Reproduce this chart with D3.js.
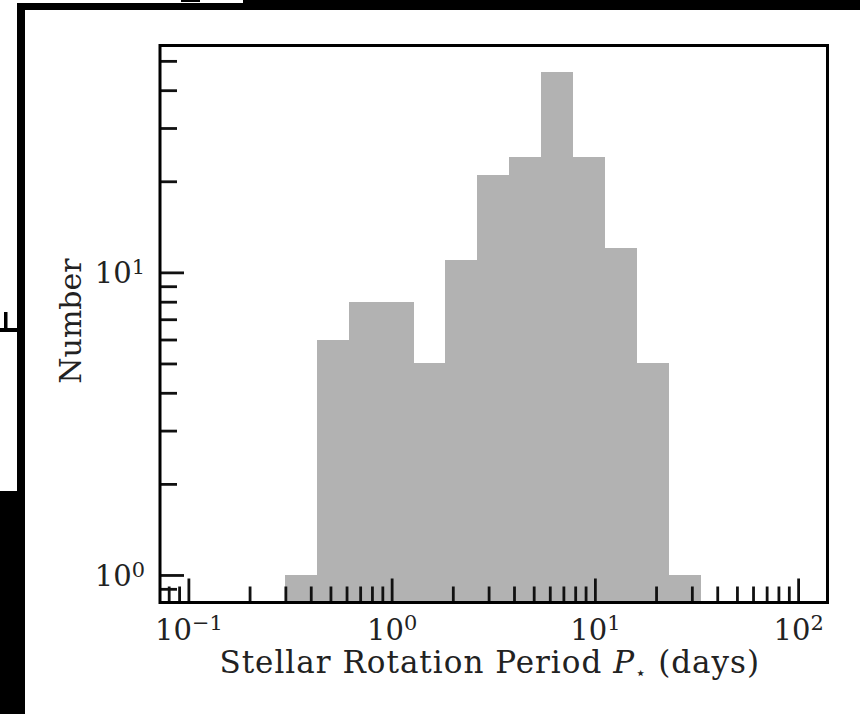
<!DOCTYPE html>
<html>
<head>
<meta charset="utf-8">
<script src="https://cdn.jsdelivr.net/npm/d3@7"></script>
<style>
  body { margin: 0; background: #fff; }
  svg { display: block; }
  text { font-family: "DejaVu Serif", "Liberation Serif", serif; fill: #222; }
</style>
</head>
<body>
<div id="chart"></div>
<script>
// histogram bins (log spaced) and counts
var binEdges = [0.300, 0.431, 0.619, 0.889, 1.28, 1.83, 2.63, 3.78, 5.43, 7.80, 11.2, 16.1, 23.1, 33.2];
var counts = [1, 6, 8, 8, 5, 11, 21, 24, 46, 24, 12, 5, 1];

var xMajorTicks = [0.1, 1, 10, 100];
var yMajorTicks = [1, 10];
var xDomain = [0.0725, 139.5];
var yDomain = [0.811, 56.2];

var xLabel = "Stellar Rotation Period ";
var yLabel = "Number";

var width = 860, height = 714;
var plot = { left: 160, right: 827.5, top: 45.5, bottom: 602.5 };

var svg = d3.select("#chart").append("svg")
    .attr("width", width)
    .attr("height", height);

// stray black framing bits around the cropped figure
function drawFrame() {
    var g = svg.append("g").attr("fill", "#000");
    g.append("rect").attr("x", 17).attr("y", 3).attr("width", 843).attr("height", 7);
    g.append("rect").attr("x", 243).attr("y", 0).attr("width", 617).attr("height", 4);
    g.append("rect").attr("x", 181).attr("y", 0).attr("width", 19).attr("height", 2);
    g.append("rect").attr("x", 17).attr("y", 3).attr("width", 8).attr("height", 711);
    g.append("rect").attr("x", 0).attr("y", 491).attr("width", 25).attr("height", 223);
    g.append("rect").attr("x", 4).attr("y", 312).attr("width", 3.5).attr("height", 19);
    g.append("rect").attr("x", 0).attr("y", 328).attr("width", 17).attr("height", 4);
}

var x = d3.scaleLog().domain(xDomain).range([plot.left, plot.right]);
var y = d3.scaleLog().domain(yDomain).range([plot.bottom, plot.top]);

function drawBars() {
    var bins = counts.map(function(c, i) {
        return { x0: binEdges[i], x1: binEdges[i + 1], n: c };
    });
    svg.append("g")
        .attr("shape-rendering", "crispEdges")
        .selectAll("rect")
        .data(bins).enter().append("rect")
        .attr("x", function(d) { return x(d.x0); })
        .attr("width", function(d) { return x(d.x1) - x(d.x0) + 0.5; })
        .attr("y", function(d) { return y(d.n); })
        .attr("height", function(d) { return plot.bottom - y(d.n); })
        .attr("fill", "#b2b2b2");
}

function superscript(sel) {
    sel.each(function(d) {
        var t = d3.select(this);
        var e = Math.round(Math.log10(d));
        t.text(null);
        t.append("tspan").text("10");
        t.append("tspan")
            .attr("dy", "-0.45em")
            .attr("font-size", "0.72em")
            .text(e < 0 ? "\u2212" + (-e) : String(e));
    });
}

function styleTicks(g) {
    g.select(".domain").remove();
    g.selectAll(".tick line")
        .attr("stroke", "#111")
        .attr("stroke-width", 2.8);
}

function drawAxes() {
    var isMajor = function(v) { return Math.abs(Math.log10(v) - Math.round(Math.log10(v))) < 1e-6; };
    var xMinor = x.ticks().filter(function(v) { return !isMajor(v); });
    var yMinor = y.ticks().filter(function(v) { return !isMajor(v); });

    var gx = svg.append("g").attr("transform", "translate(0," + plot.bottom + ")");
    gx.append("g").call(d3.axisBottom(x).tickValues(xMinor).tickSizeInner(-16).tickSizeOuter(0).tickFormat(""))
        .call(styleTicks);
    var gxMaj = gx.append("g").call(d3.axisBottom(x).tickValues(xMajorTicks).tickSizeInner(-24).tickSizeOuter(0))
        .call(styleTicks);
    gxMaj.selectAll(".tick text")
        .attr("y", 37).attr("dy", null)
        .attr("font-size", 29)
        .attr("font-family", null)
        .attr("fill", "#222")
        .call(superscript);

    var gy = svg.append("g").attr("transform", "translate(" + plot.left + ",0)");
    gy.append("g").call(d3.axisLeft(y).tickValues(yMinor).tickSizeInner(-17).tickSizeOuter(0).tickFormat(""))
        .call(styleTicks);
    var gyMaj = gy.append("g").call(d3.axisLeft(y).tickValues(yMajorTicks).tickSizeInner(-24).tickSizeOuter(0))
        .call(styleTicks);
    gyMaj.selectAll(".tick text")
        .attr("x", -15).attr("dy", "0.36em")
        .attr("font-size", 29)
        .attr("font-family", null)
        .attr("fill", "#222")
        .call(superscript);

    svg.append("rect")
        .attr("x", plot.left).attr("y", plot.top)
        .attr("width", plot.right - plot.left)
        .attr("height", plot.bottom - plot.top)
        .attr("fill", "none")
        .attr("stroke", "#000")
        .attr("stroke-width", 3);
}

function drawLabels() {
    var xl = svg.append("text")
        .attr("x", (plot.left + plot.right) / 2 - 4)
        .attr("y", 673)
        .attr("text-anchor", "middle")
        .attr("font-size", 31)
        .attr("letter-spacing", 1);
    xl.append("tspan").text(xLabel);
    xl.append("tspan").attr("font-style", "italic").text("P");
    xl.append("tspan").attr("font-size", 18).attr("dy", 6).attr("font-family", "DejaVu Sans").text("\u22c6");
    xl.append("tspan").attr("dy", -6).text(" (days)");

    svg.append("text")
        .attr("transform", "translate(81," + ((plot.top + plot.bottom) / 2 - 3) + ") rotate(-90)")
        .attr("text-anchor", "middle")
        .attr("font-size", 30)
        .text(yLabel);
}

drawFrame();
drawBars();
drawAxes();
drawLabels();
</script>
</body>
</html>
